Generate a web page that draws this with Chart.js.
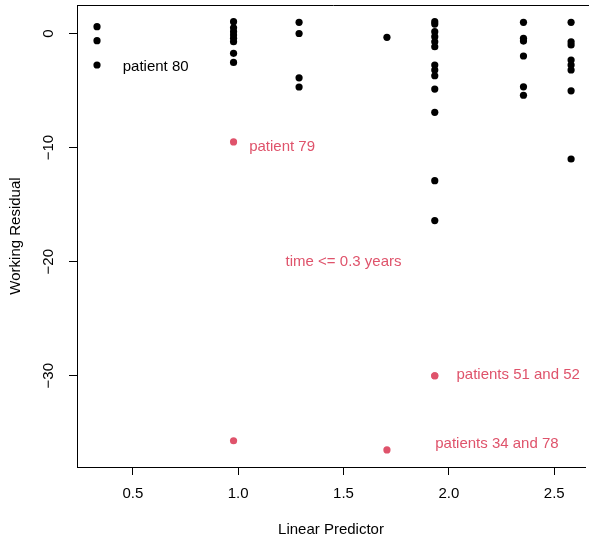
<!DOCTYPE html>
<html>
<head>
<meta charset="utf-8">
<script src="https://cdn.jsdelivr.net/npm/chart.js@4.4.1/dist/chart.umd.min.js"></script>
<style>
  html, body { margin: 0; padding: 0; background: #fff; }
  canvas { display: block; }
</style>
</head>
<body>
<canvas id="residPlot" width="589" height="537"></canvas>
<script>
// linear predictor value of each column of points
var linPred = [0.33, 0.978, 1.289, 1.706, 1.933, 2.354, 2.58];
// working residuals in each column (patients followed > 0.3 years)
var residByCol = [
    [0.6, -0.63, -2.76],
    [1.04, 0.5, 0.16, -0.13, -0.42, -0.72, -1.74, -2.53],
    [0.98, 0.0, -3.88, -4.69],
    [-0.33],
    [1.04, 0.83, 0.16, -0.28, -0.72, -1.16, -2.76, -3.2, -3.7, -4.87, -6.91, -12.9, -16.4],
    [0.98, -0.42, -0.66, -1.97, -4.67, -5.41],
    [0.98, -0.72, -1.0, -2.32, -2.76, -3.2, -5.02, -11.0]
];
// early deaths (time <= 0.3 years)
var earlyX = [0.978, 0.978, 1.706, 1.933, 1.933];
var earlyY = [-9.5, -35.7, -36.5, -30.0, -30.0];

var xTicks = [0.5, 1.0, 1.5, 2.0, 2.5];
var yTicks = [0, -10, -20, -30];

var RED = '#DF536B';
var FONT = "'Liberation Sans', Arial, Helvetica, sans-serif";

var blackPts = [];
linPred.forEach(function(x, i) {
    residByCol[i].forEach(function(r) { blackPts.push({ x: x, y: r }); });
});
var redPts = earlyX.map(function(x, i) { return { x: x, y: earlyY[i] }; });

// text notes, placed in data units
var notes = [
    { text: 'patient 80', x: 0.452, y: -2.94, align: 'left', color: '#000' },
    { text: 'patient 79', x: 1.052, y: -9.96, align: 'left', color: RED },
    { text: 'time <= 0.3 years', x: 1.5, y: -20, align: 'center', color: RED },
    { text: 'patients 51 and 52', x: 2.036, y: -29.96, align: 'left', color: RED },
    { text: 'patients 34 and 78', x: 1.935, y: -36.0, align: 'left', color: RED }
];

var rAxes = {
    id: 'rAxes',
    afterDraw: function(chart) {
        var ctx = chart.ctx, a = chart.chartArea;
        var ys = chart.scales.y, xs = chart.scales.x;
        ctx.save();
        ctx.strokeStyle = '#000';
        ctx.lineWidth = 1;
        // top line of the box
        ctx.beginPath();
        ctx.moveTo(a.left, a.top + 0.5);
        ctx.lineTo(a.right + 5, a.top + 0.5);
        ctx.stroke();
        // y tick labels, rotated like R
        ctx.fillStyle = '#000';
        ctx.font = '15px ' + FONT;
        ctx.textAlign = 'center';
        ctx.textBaseline = 'middle';
        ys.ticks.forEach(function(t) {
            var py = ys.getPixelForValue(t.value);
            ctx.save();
            ctx.translate(49, py);
            ctx.rotate(-Math.PI / 2);
            ctx.fillText(String(t.value).replace('-', '\u2212'), 0, 0);
            ctx.restore();
        });
        // notes
        notes.forEach(function(n) {
            ctx.fillStyle = n.color;
            ctx.textAlign = n.align;
            ctx.fillText(n.text, xs.getPixelForValue(n.x), ys.getPixelForValue(n.y));
        });
        ctx.restore();
    }
};

var ctx = document.getElementById('residPlot').getContext('2d');
var residChart = new Chart(ctx, {
    type: 'scatter',
    data: {
        datasets: [{
            data: blackPts,
            backgroundColor: '#000',
            borderWidth: 0,
            pointRadius: 3.6
        }, {
            data: redPts,
            backgroundColor: RED,
            borderWidth: 0,
            pointRadius: 3.6
        }]
    },
    options: {
        responsive: false,
        animation: false,
        layout: { padding: { top: 5, right: 1, bottom: 0, left: 0 } },
        plugins: {
            legend: { display: false },
            tooltip: { enabled: false }
        },
        scales: {
            x: {
                type: 'linear',
                min: 0.235,
                max: 2.646,
                afterBuildTicks: function(scale) {
                    scale.ticks = xTicks.map(function(v) { return { value: v }; });
                },
                afterFit: function(scale) { scale.height = 70; },
                grid: { drawOnChartArea: false, drawTicks: true, tickLength: 8, color: '#000' },
                border: { display: true, color: '#000' },
                ticks: {
                    color: '#000',
                    padding: 10,
                    maxRotation: 0,
                    font: { family: FONT, size: 15 },
                    callback: function(v) { return v.toFixed(1); }
                },
                title: {
                    display: true,
                    text: 'Linear Predictor',
                    color: '#000',
                    font: { family: FONT, size: 15, lineHeight: 1 },
                    padding: { top: 0, bottom: 0 }
                }
            },
            y: {
                type: 'linear',
                min: -38.0,
                max: 2.5,
                afterBuildTicks: function(scale) {
                    scale.ticks = yTicks.map(function(v) { return { value: v }; });
                },
                afterFit: function(scale) { scale.width = 77; },
                grid: { drawOnChartArea: false, drawTicks: true, tickLength: 8, color: '#000' },
                border: { display: true, color: '#000' },
                ticks: { display: false },
                title: {
                    display: true,
                    text: 'Working Residual',
                    color: '#000',
                    font: { family: FONT, size: 15, lineHeight: 1 },
                    padding: { top: 8, bottom: 8 }
                }
            }
        }
    },
    plugins: [rAxes]
});
</script>
</body>
</html>
